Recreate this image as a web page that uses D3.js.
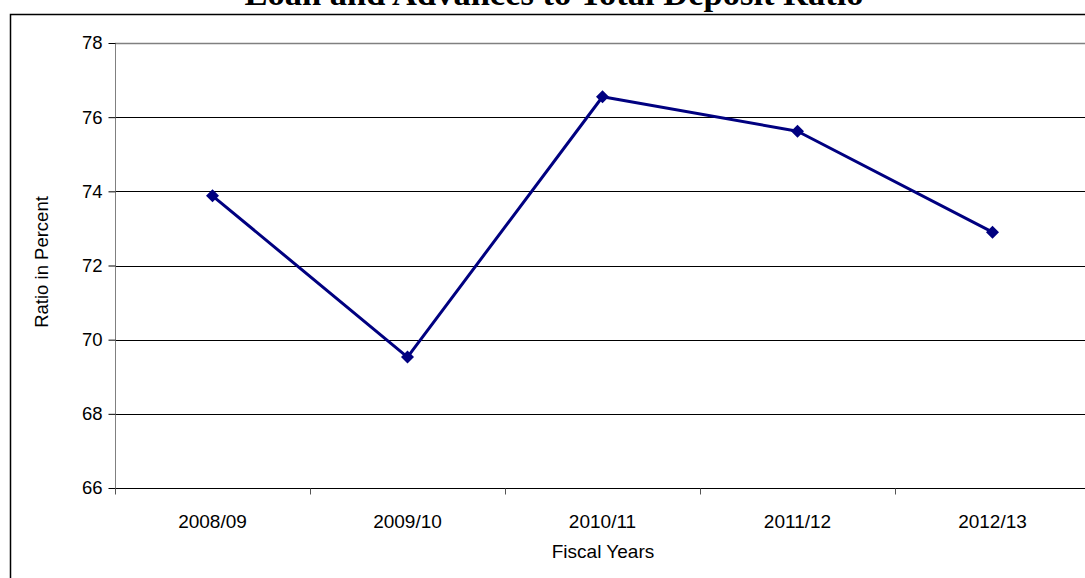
<!DOCTYPE html>
<html>
<head>
<meta charset="utf-8">
<script src="https://cdn.jsdelivr.net/npm/d3@7"></script>
<style>
  html, body { margin: 0; padding: 0; background: #fff; overflow: hidden; }
  svg { display: block; }
  text { font-family: Arial, "Liberation Sans", sans-serif; }
</style>
</head>
<body>
<script>
// Loan and advances to total deposit ratio by fiscal year (percent)
const fiscalYears = ["2008/09", "2009/10", "2010/11", "2011/12", "2012/13"];
const ratioValues = [73.88, 69.53, 76.55, 75.62, 72.90];
const yTicks = [66, 68, 70, 72, 74, 76, 78];

const W = 1085, H = 578;
const plot = { left: 115, right: 1090, top: 43, bottom: 488 };

const svg = d3.select("body").append("svg")
  .attr("width", W).attr("height", H);

// outer chart frame
svg.append("rect")
  .attr("x", 10.5).attr("y", 14.5)
  .attr("width", 1085).attr("height", 600)
  .attr("fill", "none").attr("stroke", "#000").attr("stroke-width", 1.5);

// title (partly above the frame)
svg.append("text")
  .attr("x", 554).attr("y", 4.5)
  .attr("text-anchor", "middle")
  .style("font-family", "'Times New Roman', 'Liberation Serif', serif")
  .style("font-weight", "bold")
  .style("font-size", "34.5px")
  .text("Loan and Advances to Total Deposit Ratio");

const x = d3.scaleBand().domain(fiscalYears).range([plot.left, plot.right]);
const y = d3.scaleLinear().domain([66, 78]).range([plot.bottom, plot.top]);

// horizontal gridlines
svg.append("g").selectAll("line").data(yTicks).join("line")
  .attr("x1", plot.left).attr("x2", plot.right)
  .attr("y1", d => Math.round(y(d)) + 0.5).attr("y2", d => Math.round(y(d)) + 0.5)
  .attr("stroke", d => d === 78 ? "#808080" : "#000")
  .attr("stroke-width", d => d === 78 ? 1.5 : 1);

// y axis
const yAxis = d3.axisLeft(y).tickValues(yTicks).tickSize(7).tickPadding(6).tickFormat(d3.format("d"));
const gy = svg.append("g").attr("transform", `translate(${plot.left + 0.5},0)`).call(yAxis);
gy.select(".domain").attr("stroke", "#808080").attr("d", `M0,${plot.top}V${plot.bottom + 1}`);
gy.selectAll(".tick line").attr("stroke", "#000");
gy.selectAll(".tick text").style("font-size", "18.5px").attr("fill", "#000")
  .style("font-family", "Arial, 'Liberation Sans', sans-serif");

// x axis (category boundaries as ticks)
const gx = svg.append("g").attr("transform", `translate(0,${Math.round(plot.bottom) + 0.5})`);
const bounds = fiscalYears.map(d => x(d)).concat([plot.right]);
gx.selectAll("line.tk").data(bounds).join("line").attr("class", "tk")
  .attr("x1", d => Math.round(d) + 0.5).attr("x2", d => Math.round(d) + 0.5)
  .attr("y1", 0).attr("y2", 6).attr("stroke", "#555");
gx.selectAll("text").data(fiscalYears).join("text")
  .attr("x", d => x(d) + x.bandwidth() / 2)
  .attr("y", 39)
  .attr("text-anchor", "middle")
  .style("font-size", "19px")
  .text(d => d);

// axis titles
svg.append("text")
  .attr("transform", "translate(48,262) rotate(-90)")
  .attr("text-anchor", "middle")
  .style("font-size", "18.5px")
  .text("Ratio in Percent");
svg.append("text")
  .attr("x", 603).attr("y", 558)
  .attr("text-anchor", "middle")
  .style("font-size", "19px")
  .text("Fiscal Years");

// series line
const pts = fiscalYears.map((d, i) => [x(d) + x.bandwidth() / 2, y(ratioValues[i])]);
svg.append("path")
  .attr("d", d3.line()(pts))
  .attr("fill", "none").attr("stroke", "#000080").attr("stroke-width", 3)
  .attr("stroke-linejoin", "round");

// diamond markers
svg.append("g").selectAll("path").data(pts).join("path")
  .attr("transform", p => `translate(${p[0]},${p[1]})`)
  .attr("d", "M0,-6.5L6.5,0L0,6.5L-6.5,0Z")
  .attr("fill", "#000080");
</script>
</body>
</html>
